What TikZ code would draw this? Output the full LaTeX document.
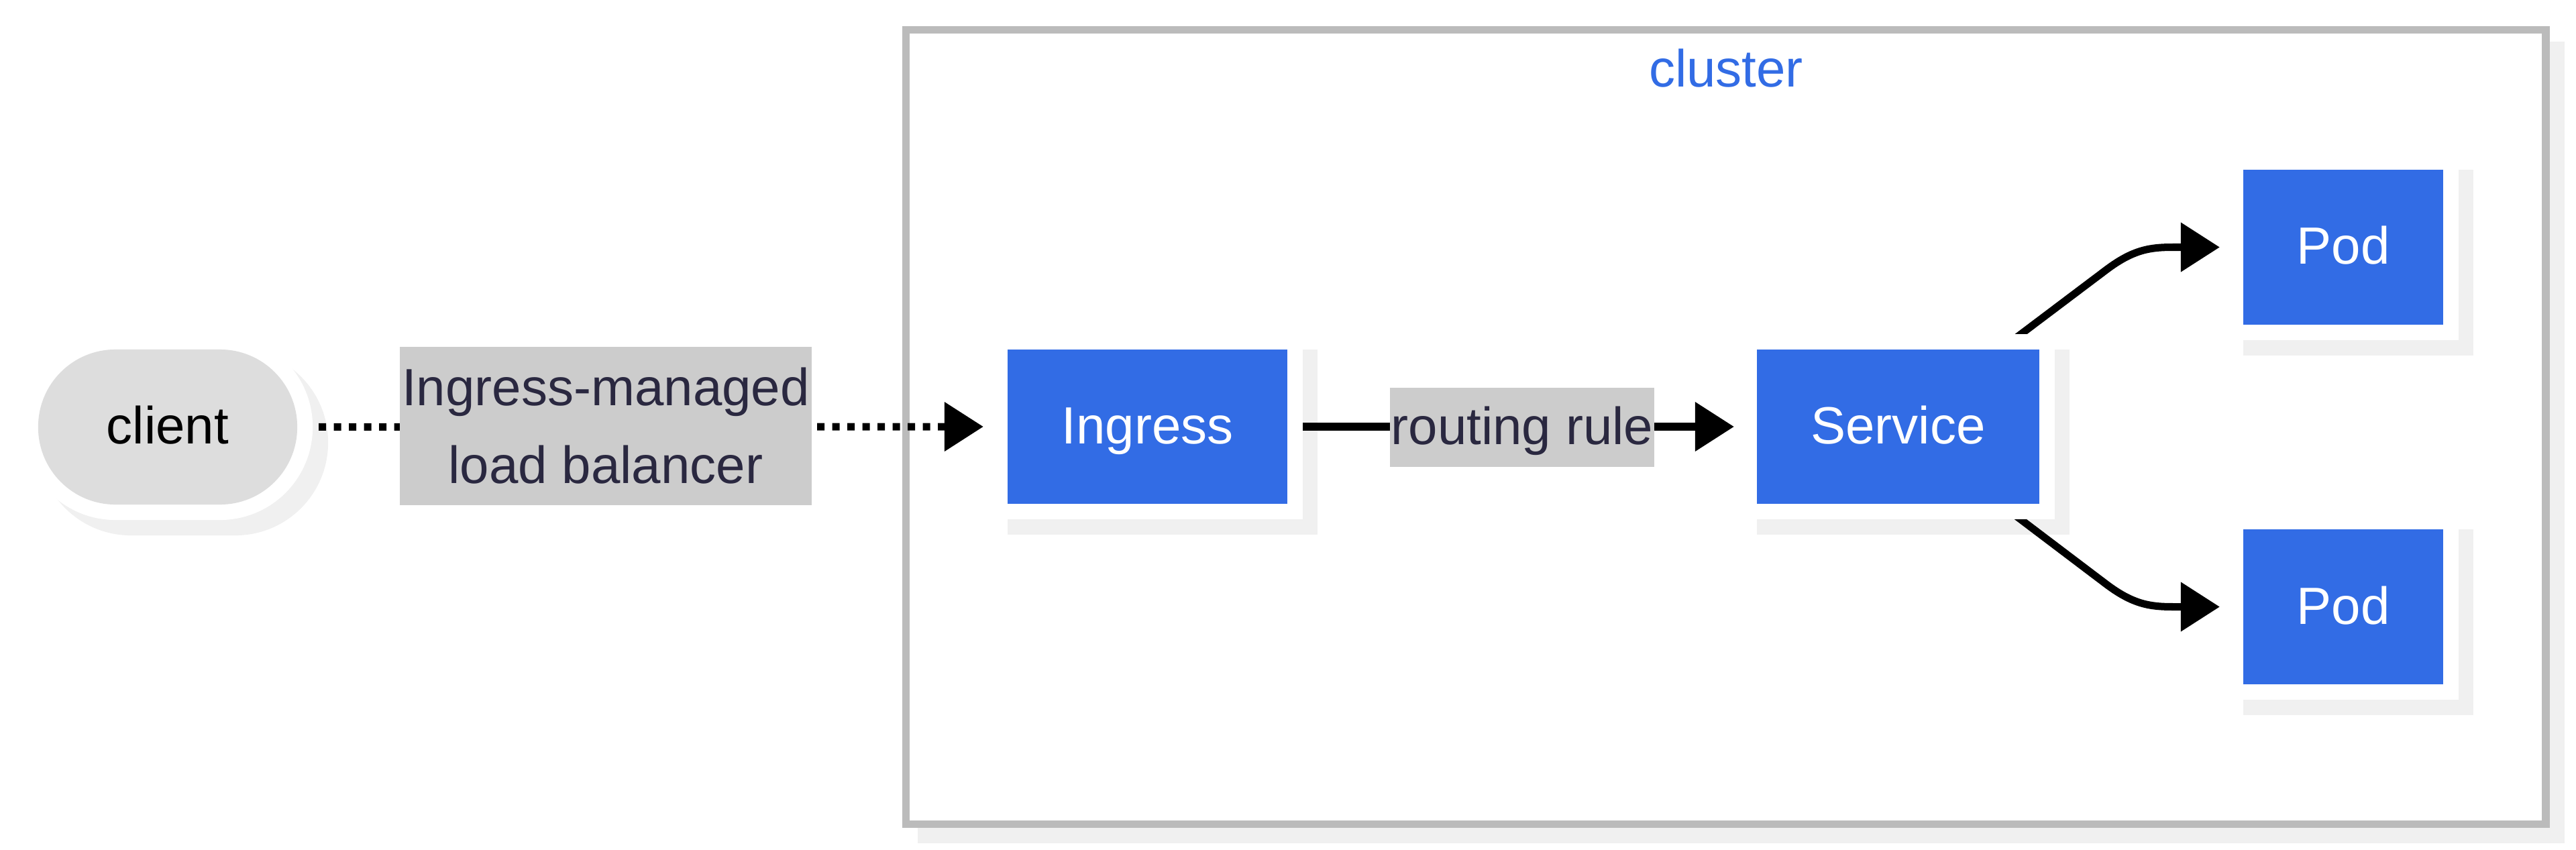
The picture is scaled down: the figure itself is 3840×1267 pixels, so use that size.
\documentclass[tikz,border=0pt]{standalone}
\usepackage{fontspec}
\setmainfont{Liberation Sans}
\usetikzlibrary{arrows.meta}
\definecolor{kblue}{HTML}{326CE5}
\definecolor{shadowc}{HTML}{F0F0F0}
\definecolor{clusterc}{HTML}{BBBBBB}
\definecolor{clientc}{HTML}{DDDDDD}
\definecolor{labelc}{HTML}{CCCCCC}
\definecolor{labeltext}{HTML}{2A2840}
\pgfdeclarelayer{bgl}
\pgfdeclarelayer{edgel}
\pgfdeclarelayer{whitel}
\pgfsetlayers{bgl,edgel,whitel,main}
\newcommand\kdeco[1]{%
  \begin{pgfonlayer}{bgl}
    \fill[shadowc] (#1.north west) rectangle ([shift={(45,46)}]#1.south east);
  \end{pgfonlayer}
  \begin{pgfonlayer}{whitel}
    \fill[white] ([shift={(-23,-23)}]#1.north west) rectangle ([shift={(23,23)}]#1.south east);
  \end{pgfonlayer}}
\begin{document}
\begin{tikzpicture}[x=0.01cm,y=-0.01cm,
  kfont/.style={font=\fontsize{22.2pt}{26.6pt}\selectfont},
  kbox/.style={kfont, fill=kblue, text=white, inner sep=0pt, outer sep=0pt,
    text height=19.2pt, text depth=4.7pt, minimum height=2.30cm},
  klabel/.style={kfont, fill=labelc, text=labeltext, inner sep=0pt, outer sep=0pt},
  kedge/.style={line width=0.11cm, -{Triangle[length=0.58cm,width=0.71cm]}},
  kdotted/.style={kedge, dash pattern=on 0.11cm off 0.115cm},
]
\useasboundingbox (0,0) rectangle (3840,1267);

% nodes
\node[kfont, fill=clientc, text=black, rounded corners=1.15cm, minimum width=3.86cm,
  minimum height=2.31cm, inner sep=0pt, outer sep=0pt, text height=19.2pt, text depth=4.7pt]
  (client) at (250,636.5) {client};
\node[klabel, minimum width=6.14cm, minimum height=2.36cm, align=center,
  font=\fontsize{22.2pt}{33pt}\selectfont] (lb) at (903,635) {Ingress-managed\\load balancer};
\node[kbox, minimum width=4.17cm] (ingress) at (1710.5,636) {Ingress};
\node[klabel, minimum width=3.94cm, minimum height=1.18cm, text height=19.2pt, text depth=4.7pt]
  (rr) at (2269,637) {routing rule};
\node[kbox, minimum width=4.21cm] (service) at (2829.5,636) {Service};
\node[kbox, minimum width=2.98cm, minimum height=2.31cm] (pod1) at (3493,368.5) {Pod};
\node[kbox, minimum width=2.98cm, minimum height=2.31cm] (pod2) at (3493,904.5) {Pod};
\node[kfont, text=kblue, anchor=base, inner sep=0pt] (clabel) at (2573,130) {cluster};

% cluster frame
\begin{pgfonlayer}{bgl}
  \fill[shadowc] (1368,62) rectangle (3823,1257);
  \node[draw=clusterc, fill=white, line width=0.115cm, minimum width=24.43cm,
    minimum height=11.83cm, inner sep=0pt] (cluster) at (2572.5,636.5) {};
  \fill[shadowc, rounded corners=1.38cm] (client.north west) rectangle ([shift={(46,46)}]client.south east);
\end{pgfonlayer}
\begin{pgfonlayer}{whitel}
  \fill[white, rounded corners=1.38cm] ([shift={(-23,-23)}]client.north west) rectangle ([shift={(23,23)}]client.south east);
\end{pgfonlayer}
\kdeco{ingress}
\kdeco{service}
\kdeco{pod1}
\kdeco{pod2}

% connectors
\begin{pgfonlayer}{edgel}
  \draw[kdotted] (client.center) -- ([shift={(-36,0)}]ingress.west);
  \draw[kedge] (ingress.center) -- ([shift={(-34,0)}]service.west);
  \draw[kedge] (service.center) -- (3140,402) .. controls (3180,372) and (3205,368.5) .. (3240,368.5)
    -- ([shift={(-35,0)}]pod1.west);
  \draw[kedge] (service.center) -- (3140,871) .. controls (3180,901) and (3205,904.5) .. (3240,904.5)
    -- ([shift={(-35,0)}]pod2.west);
\end{pgfonlayer}
\end{tikzpicture}
\end{document}
